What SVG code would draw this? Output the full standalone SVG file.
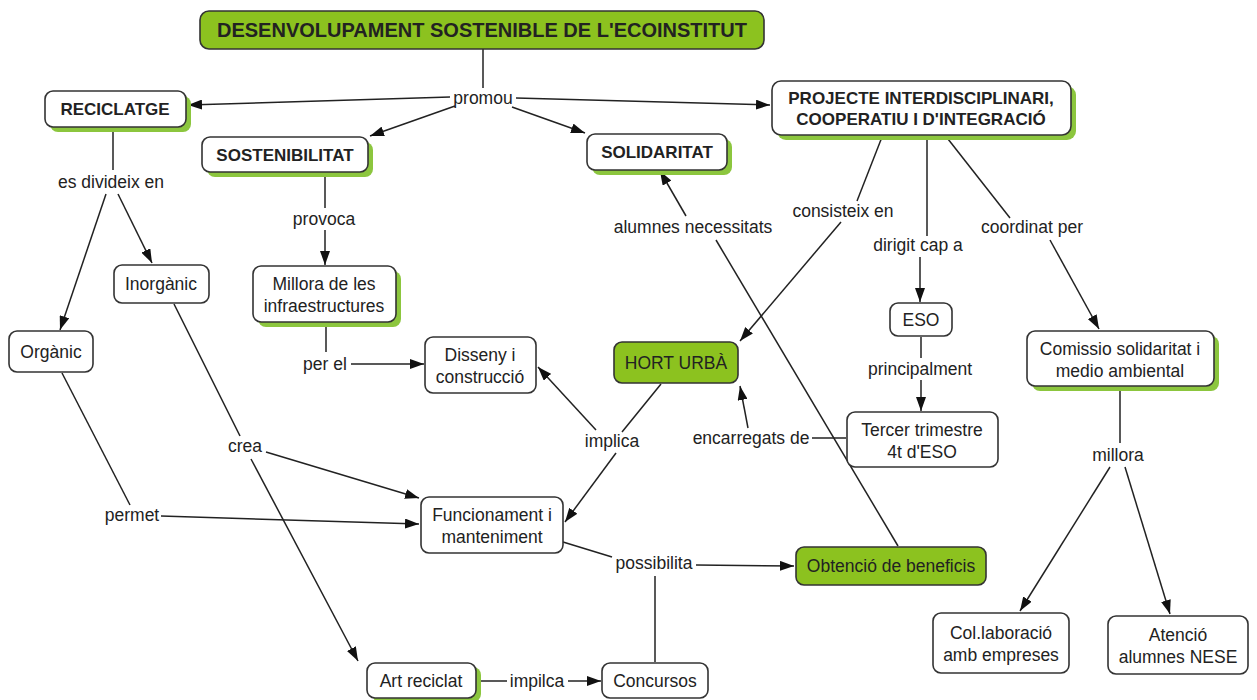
<svg xmlns="http://www.w3.org/2000/svg" width="1257" height="700" viewBox="0 0 1257 700">
<defs>
<marker id="ah" viewBox="0 0 14 10" refX="14" refY="5" markerWidth="14" markerHeight="10" orient="auto" markerUnits="userSpaceOnUse"><path d="M0,0 L14,5 L0,10 z" fill="#111"/></marker>
<style>
.n{fill:#fff;stroke:#333;stroke-width:1.6}
.g{fill:#8cc21f;stroke:#333;stroke-width:1.6}
.s{fill:#8cc63e;stroke:none}
.t{font-family:"Liberation Sans",Arial,sans-serif;font-size:17.5px;fill:#222;text-anchor:middle}
.b{font-weight:bold;font-size:17px}
.h{font-weight:bold;font-size:20px}
.l{font-family:"Liberation Sans",Arial,sans-serif;font-size:17.5px;fill:#222;text-anchor:middle}
.c line,.c path{stroke:#222;stroke-width:1.5;fill:none}
.a{marker-end:url(#ah)}
</style>
</defs>
<rect width="1257" height="700" fill="#fff"/>
<g class="c" id="connectors">
<line x1="483" y1="49" x2="483" y2="88"/>
<line class="a" x1="450" y1="97" x2="188" y2="105"/>
<line class="a" x1="455" y1="106" x2="370" y2="136"/>
<line class="a" x1="512" y1="107" x2="585" y2="133"/>
<line class="a" x1="516" y1="98" x2="770" y2="105"/>
<line x1="113" y1="129" x2="113" y2="170"/>
<line class="a" x1="106" y1="194" x2="60" y2="330"/>
<line class="a" x1="118" y1="194" x2="152" y2="263"/>
<line x1="325" y1="173" x2="325" y2="208"/>
<line class="a" x1="325" y1="230" x2="325" y2="265"/>
<line x1="326" y1="323" x2="326" y2="352"/>
<line class="a" x1="351" y1="364" x2="424" y2="364"/>
<line x1="62" y1="373" x2="130" y2="505"/>
<line class="a" x1="161" y1="516" x2="419" y2="524"/>
<line x1="174" y1="304" x2="240" y2="436"/>
<line class="a" x1="266" y1="452" x2="419" y2="498"/>
<line class="a" x1="251" y1="459" x2="358" y2="661"/>
<line x1="661" y1="384" x2="622" y2="432"/>
<line class="a" x1="596" y1="430" x2="538" y2="367"/>
<line class="a" x1="616" y1="453" x2="565" y2="522"/>
<line x1="563" y1="542" x2="612" y2="557"/>
<line class="a" x1="696" y1="565" x2="794" y2="566"/>
<line x1="655" y1="662" x2="655" y2="576"/>
<line x1="898" y1="546" x2="716" y2="240"/>
<line class="a" x1="686" y1="216" x2="660" y2="171"/>
<line x1="882" y1="137" x2="857" y2="201"/>
<line class="a" x1="841" y1="222" x2="740" y2="341"/>
<line x1="927" y1="136" x2="927" y2="236"/>
<line class="a" x1="920" y1="257" x2="920" y2="302"/>
<line x1="948" y1="139" x2="1010" y2="218"/>
<line class="a" x1="1050" y1="240" x2="1099" y2="329"/>
<line x1="921" y1="337" x2="921" y2="358"/>
<line class="a" x1="921" y1="380" x2="921" y2="411"/>
<line x1="846" y1="438" x2="812" y2="438"/>
<line class="a" x1="748" y1="428" x2="740" y2="386"/>
<line x1="1120" y1="388" x2="1120" y2="443"/>
<line class="a" x1="1110" y1="467" x2="1020" y2="611"/>
<line class="a" x1="1125" y1="467" x2="1170" y2="614"/>
<line x1="477" y1="681" x2="507" y2="681"/>
<line class="a" x1="568" y1="681" x2="601" y2="681"/>
</g>
<g id="labels">
<text class="l" x="483" y="104">promou</text>
<text class="l" x="111" y="188">es divideix en</text>
<text class="l" x="324" y="225">provoca</text>
<text class="l" x="693" y="233">alumnes necessitats</text>
<text class="l" x="843" y="217">consisteix en</text>
<text class="l" x="918" y="251">dirigit cap a</text>
<text class="l" x="1032" y="233">coordinat per</text>
<text class="l" x="325" y="370">per el</text>
<text class="l" x="920" y="375">principalment</text>
<text class="l" x="612" y="447">implica</text>
<text class="l" x="751" y="444">encarregats de</text>
<text class="l" x="245" y="452">crea</text>
<text class="l" x="1118" y="461">millora</text>
<text class="l" x="132" y="521">permet</text>
<text class="l" x="654" y="569">possibilita</text>
<text class="l" x="537" y="687">impilca</text>
</g>
<g id="title"><rect x="200" y="11" width="564" height="38" rx="9" class="g" stroke-width="2"/><text class="t h" x="482" y="37">DESENVOLUPAMENT SOSTENIBLE DE L'ECOINSTITUT</text></g>
<g id="reciclatge"><rect class="s" x="50" y="96" width="141" height="36" rx="8"/><rect class="n" x="45" y="91" width="141" height="36" rx="8"/><text class="t b" x="115" y="115">RECICLATGE</text></g>
<g id="sostenibilitat"><rect class="s" x="207" y="142" width="166" height="35" rx="8"/><rect class="n" x="202" y="137" width="166" height="35" rx="8"/><text class="t b" x="285" y="161">SOSTENIBILITAT</text></g>
<g id="solidaritat"><rect class="s" x="592" y="139" width="140" height="36" rx="8"/><rect class="n" x="587" y="134" width="140" height="36" rx="8"/><text class="t b" x="657" y="158">SOLIDARITAT</text></g>
<g id="projecte"><rect class="s" x="777" y="86" width="299" height="54" rx="9"/><rect class="n" x="772" y="81" width="299" height="54" rx="9"/><text class="t b" x="921" y="104">PROJECTE INTERDISCIPLINARI,</text><text class="t b" x="921" y="125">COOPERATIU I D'INTEGRACIÓ</text></g>
<g id="inorganic"><rect class="n" x="114" y="265" width="95" height="38" rx="8"/><text class="t" x="161" y="290">Inorgànic</text></g>
<g id="organic"><rect class="n" x="9" y="331" width="84" height="41" rx="8"/><text class="t" x="51" y="358">Orgànic</text></g>
<g id="millora"><rect class="s" x="258" y="271" width="143" height="56" rx="8"/><rect class="n" x="253" y="266" width="143" height="56" rx="8"/><text class="t" x="324" y="290">Millora de les</text><text class="t" x="324" y="312">infraestructures</text></g>
<g id="disseny"><rect class="n" x="425" y="337" width="111" height="56" rx="8"/><text class="t" x="480" y="361">Disseny i</text><text class="t" x="480" y="383">construcció</text></g>
<g id="hort"><rect class="g" x="614" y="342" width="124" height="41" rx="8"/><text class="t" x="676" y="369">HORT URBÀ</text></g>
<g id="eso"><rect class="n" x="890" y="303" width="62" height="33" rx="8"/><text class="t" x="921" y="326">ESO</text></g>
<g id="tercer"><rect class="n" x="847" y="412" width="151" height="55" rx="8"/><text class="t" x="922" y="436">Tercer trimestre</text><text class="t" x="922" y="458">4t d'ESO</text></g>
<g id="comissio"><rect class="s" x="1032" y="336" width="187" height="55" rx="8"/><rect class="n" x="1027" y="331" width="187" height="55" rx="8"/><text class="t" x="1120" y="355">Comissio solidaritat i</text><text class="t" x="1120" y="377">medio ambiental</text></g>
<g id="funcionament"><rect class="n" x="421" y="497" width="142" height="56" rx="8"/><text class="t" x="492" y="521">Funcionament i</text><text class="t" x="492" y="543">manteniment</text></g>
<g id="obtencio"><rect class="g" x="796" y="547" width="190" height="38" rx="8"/><text class="t" x="891" y="572">Obtenció de beneficis</text></g>
<g id="collaboracio"><rect class="n" x="933" y="613" width="136" height="60" rx="8"/><text class="t" x="1001" y="639">Col.laboració</text><text class="t" x="1001" y="661">amb empreses</text></g>
<g id="atencio"><rect class="n" x="1108" y="616" width="140" height="58" rx="8"/><text class="t" x="1178" y="641">Atenció</text><text class="t" x="1178" y="663">alumnes NESE</text></g>
<g id="art"><rect class="s" x="372" y="667" width="109" height="35" rx="8"/><rect class="n" x="367" y="663" width="109" height="35" rx="8"/><text class="t" x="421" y="687">Art reciclat</text></g>
<g id="concursos"><rect class="n" x="602" y="663" width="106" height="35" rx="8"/><text class="t" x="655" y="687">Concursos</text></g>
</svg>
